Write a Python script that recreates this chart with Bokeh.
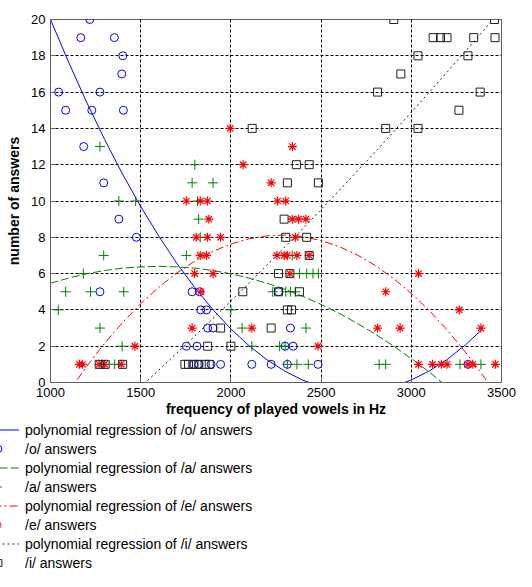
from bokeh.plotting import figure
from bokeh.models import Legend, LegendItem, FixedTicker, Range1d
from bokeh.embed import file_html
from bokeh.resources import INLINE

# ---- data ----
x_ticks = [1000, 1500, 2000, 2500, 3000, 3500]
y_ticks = [0, 2, 4, 6, 8, 10, 12, 14, 16, 18, 20]

o_x = [1218, 1168, 1354, 1401, 1395, 1045, 1274, 1084, 1229, 1404, 1184, 1295, 1379, 1476,
       1274, 1785, 1826, 2264, 1833, 1865, 1871, 1901, 2330, 1753, 1812, 2300, 2345,
       1795, 1822, 1890, 1943, 2116, 2223, 2313, 2483, 3314]
o_y = [20, 19, 19, 18, 17, 16, 16, 15, 15, 15, 13, 11, 9, 8,
       5, 5, 5, 5, 4, 4, 3, 3, 3, 2, 2, 2, 2,
       1, 1, 1, 1, 1, 1, 1, 1, 1]

a_x = [1274, 1800, 1785, 1901, 1379, 1472, 1815, 1821, 1830, 1295, 1753, 2340,
       1182, 2380, 2420, 2455, 2485, 1084, 1222, 1406, 2232, 2304, 2330, 2357,
       1043, 2000, 1274, 2062, 2416, 1397, 2116, 2270, 2300,
       1356, 2313, 2366, 2429, 2822, 2858, 3270, 3386]
a_y = [13, 12, 11, 11, 10, 10, 10, 9, 8, 7, 7, 7,
       6, 6, 6, 6, 6, 5, 5, 5, 5, 5, 5, 5,
       4, 4, 3, 3, 3, 2, 2, 2, 2,
       1, 1, 1, 1, 1, 1, 1, 1]

e_x = [1996, 2341, 2068, 2223, 1753, 1830, 1870, 2259, 2304, 1878, 2340, 2375, 2416,
       1808, 1870, 1943, 2357, 1830, 1865, 2255, 2295, 2313, 2366, 2434,
       1799, 1901, 2327, 3040, 1833, 2858, 3266, 1785, 2116, 2813, 2938, 3386,
       1468, 2483, 1160, 1177, 1270, 1300, 1392, 3040, 3118, 3167, 3198, 3314, 3341, 3466]
e_y = [14, 13, 12, 11, 10, 10, 10, 10, 10, 9, 9, 9, 9,
       8, 8, 8, 8, 7, 7, 7, 7, 7, 7, 7,
       6, 6, 6, 6, 5, 5, 4, 3, 3, 3, 3, 3,
       2, 2, 1, 1, 1, 1, 1, 1, 1, 1, 1, 1, 1, 1]

i_x = [2903, 3461, 3121, 3162, 3198, 3346, 3464, 3037, 3314, 2942, 2813, 3382, 3264,
       2118, 2858, 3037, 2363, 2434, 2313, 2485, 2295, 2304, 2420, 2434, 2264, 2327,
       2066, 2264, 2380, 2313, 2336, 1943, 2223, 1871, 2000,
       1270, 1303, 1400, 1745, 1765, 1795, 1822, 1857, 1880]
i_y = [20, 20, 19, 19, 19, 19, 19, 18, 18, 17, 16, 16, 15,
       14, 14, 14, 12, 12, 11, 11, 9, 8, 8, 7, 6, 6,
       5, 5, 5, 4, 4, 3, 3, 2, 2,
       1, 1, 1, 1, 1, 1, 1, 1, 1]

# regression curves
o_fit_x = [1000, 1100, 1200, 1300, 1400, 1500, 1600, 1700, 1800, 1900, 2000, 2100, 2200,
           2300, 2400, 2500, 2600, 2700, 2800, 2900, 3000, 3100, 3200, 3300, 3390]
o_fit_y = [20.0, 17.66, 15.45, 13.39, 11.47, 9.70, 8.07, 6.57, 5.23, 4.02, 2.95, 2.03, 1.25,
           0.62, 0.12, -0.23, -0.44, -0.51, -0.44, -0.22, 0.14, 0.64, 1.28, 2.07, 2.90]

a_fit_x = [1000, 1100, 1200, 1300, 1400, 1500, 1600, 1700, 1800, 1900, 2000, 2100, 2200,
           2300, 2400, 2500, 2600, 2700, 2800, 2900, 3000, 3100, 3200, 3300, 3400]
a_fit_y = [5.47, 5.75, 5.99, 6.17, 6.30, 6.37, 6.40, 6.37, 6.30, 6.17, 5.99, 5.75, 5.47,
           5.13, 4.74, 4.30, 3.81, 3.26, 2.67, 2.02, 1.32, 0.57, -0.24, -1.09, -2.00]

e_fit_x = [1000, 1100, 1200, 1300, 1400, 1500, 1600, 1700, 1800, 1900, 2000, 2100, 2200,
           2300, 2400, 2500, 2600, 2700, 2800, 2900, 3000, 3100, 3200, 3300, 3400, 3500]
e_fit_y = [-2.04, -0.52, 0.88, 2.16, 3.31, 4.34, 5.25, 6.03, 6.69, 7.22, 7.63, 7.92, 8.08,
           8.12, 8.03, 7.82, 7.49, 7.03, 6.45, 5.74, 4.91, 3.96, 2.88, 1.68, 0.35, -1.10]

i_fit_x = [1000, 1100, 1200, 1300, 1400, 1500, 1600, 1700, 1800, 1900, 2000, 2100, 2200,
           2300, 2400, 2500, 2600, 2700, 2800, 2900, 3000, 3100, 3200, 3300, 3400, 3500]
i_fit_y = [-4.65, -3.79, -2.92, -2.04, -1.15, -0.24, 0.68, 1.62, 2.56, 3.52, 4.49, 5.47, 6.47,
           7.48, 8.49, 9.53, 10.58, 11.64, 12.70, 13.79, 14.89, 15.99, 17.12, 18.25, 19.39, 20.56]

labels = ["polynomial regression of /o/ answers", "/o/ answers",
          "polynomial regression of /a/ answers", "/a/ answers",
          "polynomial regression of /e/ answers", "/e/ answers",
          "polynomial regression of /i/ answers", "/i/ answers"]

FONT = "Liberation Sans"

# series styles (shared by the chart and the legend panel)
STYLES = [
    dict(kind="line", line_color="#0000ff", line_width=1),
    dict(kind="scatter", marker="circle", size=8, fill_color=None, line_color="#0000ff", line_width=1),
    dict(kind="line", line_color="#008000", line_width=1, line_dash="8 3"),
    dict(kind="scatter", marker="cross", size=10, line_color="#008000", line_width=1),
    dict(kind="line", line_color="#ff0000", line_width=1, line_dash="8 3 2 3"),
    dict(kind="scatter", marker="asterisk", size=9, line_color="#ff0000", line_width=1.2),
    dict(kind="line", line_color="#202020", line_width=1, line_dash="2 3"),
    dict(kind="scatter", marker="square", size=8, fill_color=None, line_color="#202020", line_width=1),
]
SERIES = [(o_fit_x, o_fit_y), (o_x, o_y), (a_fit_x, a_fit_y), (a_x, a_y),
          (e_fit_x, e_fit_y), (e_x, e_y), (i_fit_x, i_fit_y), (i_x, i_y)]


def draw(fig, style, xs, ys):
    st = dict(style)
    kind = st.pop("kind")
    if kind == "line":
        return fig.line(xs, ys, **st)
    return fig.scatter(xs, ys, **st)


# ---------------- main chart ----------------
p = figure(width=516, height=421, output_backend="svg", toolbar_location=None,
           x_range=Range1d(1000, 3500), y_range=Range1d(0, 20),
           min_border_left=50, min_border_right=15, min_border_top=19, min_border_bottom=39)
p.background_fill_color = "white"
p.border_fill_color = "white"
p.outline_line_color = "#606060"
p.outline_line_width = 1

p.xaxis.ticker = FixedTicker(ticks=x_ticks)
p.yaxis.ticker = FixedTicker(ticks=y_ticks)
for ax in (p.xaxis[0], p.yaxis[0]):
    ax.major_label_text_font = FONT
    ax.major_label_text_font_size = "13px"
    ax.major_label_text_color = "black"
    ax.axis_label_text_font = FONT
    ax.axis_label_text_font_size = "14px"
    ax.axis_label_text_font_style = "bold"
    ax.axis_label_text_color = "black"
    ax.major_tick_out = 0
    ax.major_tick_in = 5
    ax.minor_tick_in = 0
    ax.minor_tick_out = 0
    ax.axis_line_color = "#606060"
    ax.major_tick_line_color = "#606060"
    ax.major_label_standoff = 5
p.xaxis.axis_label = "frequency of played vowels in Hz"
p.yaxis.axis_label = "number of answers"
p.xaxis.axis_label_standoff = 1
p.yaxis.axis_label_standoff = 6

for g in (p.xgrid[0], p.ygrid[0]):
    g.grid_line_color = "black"
    g.grid_line_dash = "3 2"
    g.grid_line_width = 1
    g.grid_line_alpha = 1

for style, (xs, ys) in zip(STYLES, SERIES):
    draw(p, style, xs, ys)

# ---------------- legend panel below the chart ----------------
# same series drawn again, but its ranges show none of them: only the legend is visible
q = figure(width=516, height=150, output_backend="svg", toolbar_location=None,
           x_axis_type=None, y_axis_type=None,
           x_range=Range1d(0, 1), y_range=Range1d(0, 1),
           min_border_left=0, min_border_right=0, min_border_top=0, min_border_bottom=0)
q.outline_line_color = None
q.background_fill_color = "white"
q.border_fill_color = "white"
q.grid.visible = False

legend_renderers = [draw(q, style, xs, ys) for style, (xs, ys) in zip(STYLES, SERIES)]
items = [LegendItem(label=l, renderers=[r]) for l, r in zip(labels, legend_renderers)]
legend = Legend(items=items, location=(-23, 0), glyph_width=42, glyph_height=17,
                label_height=17, spacing=2, padding=0, margin=0, label_standoff=6,
                label_text_font=FONT, label_text_font_size="14px",
                label_text_color="black",
                background_fill_alpha=0, border_line_alpha=0)
q.add_layout(legend)

open("out.html", "w").write(file_html([p, q], INLINE))
